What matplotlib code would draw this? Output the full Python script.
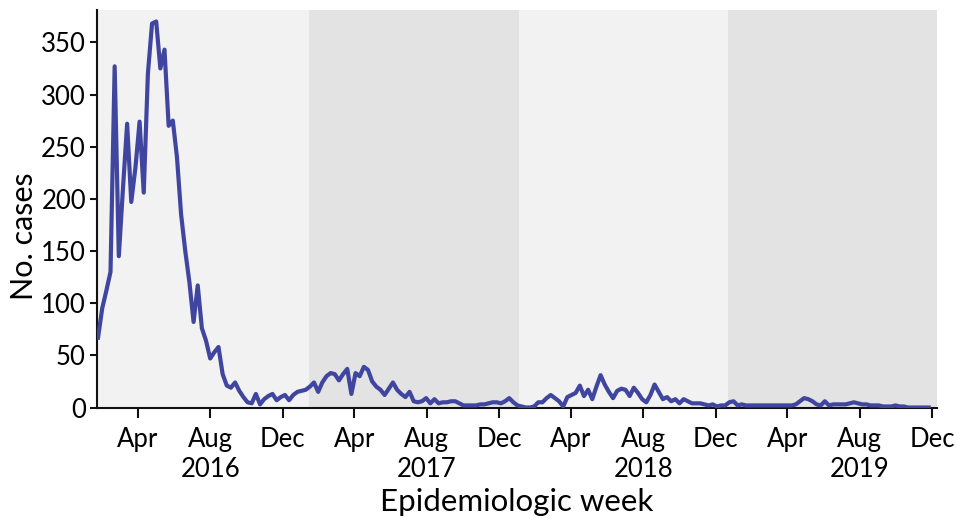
import pandas as pd
import numpy as np
import matplotlib
matplotlib.use("Agg")
import matplotlib.pyplot as plt
import matplotlib.dates as mdates

plt.rcParams['font.family'] = ['Lato', 'DejaVu Sans']

# weekly case counts, first week starting late Jan 2016
cases = [
    67, 95, 112, 130, 327, 145, 210, 272, 197, 230,
    274, 206, 320, 368, 370, 325, 343, 270, 275, 240,
    185, 150, 120, 82, 117, 76, 64, 47, 53, 58,
    32, 21, 19, 24, 16, 10, 5, 4, 13, 3,
    8, 11, 13, 7, 10, 12, 7, 12, 15, 16,
    17, 20, 24, 15, 24, 30, 33, 32, 26, 32,
    37, 13, 33, 30, 39, 36, 25, 20, 17, 12,
    18, 24, 17, 13, 10, 15, 6, 5, 6, 9,
    4, 8, 4, 5, 5, 6, 6, 4, 2, 2,
    2, 2, 3, 3, 4, 5, 5, 4, 6, 9,
    5, 2, 1, 0, 0, 1, 5, 5, 9, 12,
    9, 6, 1, 10, 12, 14, 21, 11, 17, 8,
    20, 31, 22, 15, 9, 16, 18, 17, 11, 19,
    14, 8, 5, 12, 22, 15, 8, 10, 6, 8,
    4, 8, 6, 4, 4, 4, 3, 2, 3, 1,
    2, 2, 5, 6, 2, 3, 2, 2, 2, 2,
    2, 2, 2, 2, 2, 2, 2, 2, 3, 6,
    9, 8, 6, 3, 2, 6, 2, 3, 3, 3,
    3, 4, 5, 4, 3, 3, 2, 2, 2, 1,
    1, 1, 2, 1, 1, 0, 0, 0, 0, 0,
    0,
]
weeks = pd.date_range("2016-01-25", periods=len(cases), freq="7D")

# shaded year blocks (light / dark alternating)
band_edges = pd.to_datetime(["2017-01-14", "2018-01-03", "2018-12-21"])

fig = plt.figure(figsize=(9.57, 5.18), dpi=100)
ax = fig.add_axes([0.1014, 0.2133, 0.8777, 0.7674])

x_start = weeks[0] - pd.Timedelta(days=1.7)
x_end = pd.Timestamp("2019-12-09")

ax.set_facecolor("#f2f2f2")
ax.axvspan(band_edges[0], band_edges[1], color="#e4e3e3", lw=0, zorder=0)
ax.axvspan(band_edges[2], x_end, color="#e4e3e3", lw=0, zorder=0)

ax.plot(weeks, cases, color="#4046a0", lw=3.0, solid_joinstyle="round", zorder=3)

ax.set_xlim(x_start, x_end)
ax.set_ylim(0, 381)
ax.set_yticks(range(0, 351, 50))

ticks = pd.date_range("2016-04-01", "2019-12-01", freq="MS")
ticks = [t for t in ticks if t.month in (4, 8, 12)]
labels = []
for t in ticks:
    lab = t.strftime("%b")
    if t.month == 8:
        lab += "\n" + str(t.year)
    labels.append(lab)
ax.set_xticks(ticks)
ax.set_xticklabels(labels, va="top", linespacing=1.25)

for side in ["top", "right"]:
    ax.spines[side].set_visible(False)
for side in ["left", "bottom"]:
    ax.spines[side].set_linewidth(1.5)
    ax.spines[side].set_color("#111111")

ax.tick_params(axis="both", labelsize=18.5, width=1.5, length=5, color="#111111")
ax.tick_params(axis="x", length=7, pad=7)
ax.tick_params(axis="y", pad=3)

ax.set_xlabel("Epidemiologic week", fontsize=22.5, labelpad=4)
ax.set_ylabel("No. cases", fontsize=22, va="center")
ax.yaxis.set_label_coords(-0.087, 0.432)

fig.savefig("out.png", dpi=100)
